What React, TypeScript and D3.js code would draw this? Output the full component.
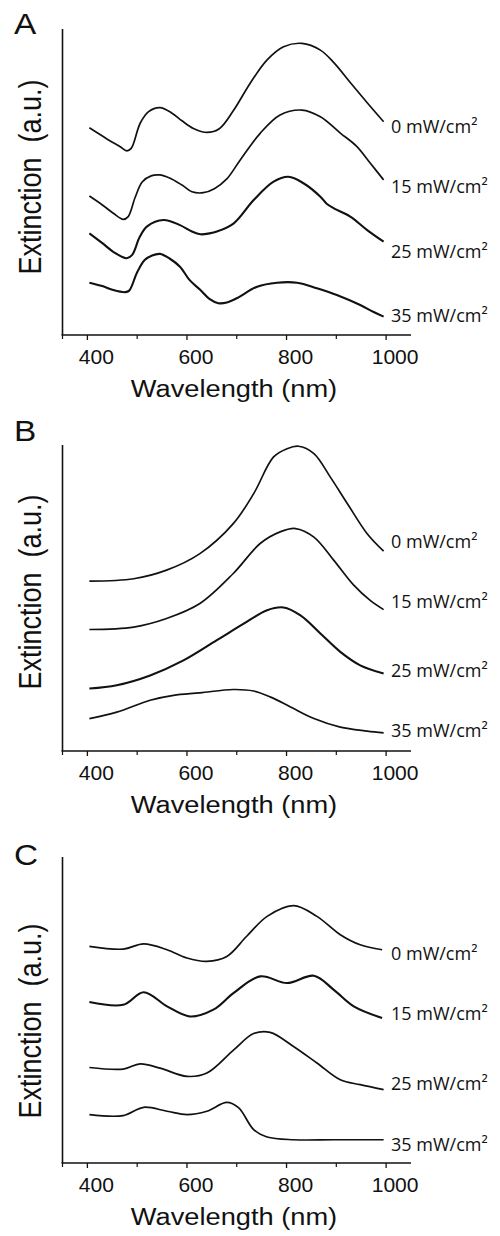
import React from "react";
import * as d3 from "d3";

type Pt = [number, number];

// ---- Data (wavelength nm, extinction a.u.) ----
const seriesNames = ["0 mW/cm²", "15 mW/cm²", "25 mW/cm²", "35 mW/cm²"];
const majorTicks = [400, 600, 800, 1000];
const minorTicks = [500, 700, 900];

const A_0: Pt[] = [[404,.677],[440,.640],[466,.615],[479,.602],[488,.610],[506,.692],[523,.730],[546,.743],[570,.725],[590,.700],[613,.675],[640,.662],[665,.674],[694,.735],[727,.823],[761,.899],[794,.942],[831,.953],[868,.931],[895,.890],[928,.825],[962,.759],[995,.697]];
const A_15: Pt[] = [[404,.454],[430,.425],[452,.398],[472,.378],[482,.387],[496,.450],[510,.500],[528,.520],[545,.523],[565,.513],[590,.490],[610,.468],[633,.465],[655,.478],[680,.510],[707,.572],[747,.659],[787,.719],[831,.735],[868,.713],[908,.660],[940,.618],[968,.562],[995,.507]];
const A_25: Pt[] = [[404,.332],[430,.300],[452,.272],[479,.251],[490,.262],[505,.320],[520,.355],[553,.376],[586,.359],[610,.338],[627,.329],[645,.332],[660,.338],[694,.365],[734,.441],[774,.501],[804,.517],[834,.496],[868,.452],[880,.430],[895,.414],[928,.387],[962,.343],[995,.305]];
const A_35: Pt[] = [[404,.171],[430,.160],[452,.147],[476,.140],[484,.145],[500,.205],[515,.245],[530,.260],[546,.265],[565,.250],[586,.223],[605,.180],[627,.147],[645,.118],[663,.104],[680,.106],[700,.120],[741,.158],[781,.171],[821,.171],[861,.153],[901,.131],[948,.098],[975,.075],[995,.060]];

const B_0: Pt[] = [[404,.555],[493,.563],[559,.591],[626,.645],[693,.743],[734,.841],[774,.961],[801,.988],[824,.996],[855,.972],[888,.895],[922,.809],[962,.710],[995,.653]];
const B_15: Pt[] = [[404,.397],[493,.405],[559,.433],[626,.482],[693,.580],[747,.678],[787,.716],[818,.727],[855,.699],[895,.623],[935,.542],[968,.492],[995,.462]];
const B_25: Pt[] = [[404,.204],[459,.215],[526,.247],[593,.296],[660,.362],[714,.416],[761,.460],[794,.469],[828,.443],[868,.384],[908,.324],[948,.280],[995,.253]];
const B_35: Pt[] = [[404,.106],[459,.127],[526,.166],[573,.182],[626,.190],[693,.201],[734,.196],[768,.176],[808,.144],[855,.106],[908,.078],[962,.065],[995,.059]];

const C_0: Pt[] = [[404,.708],[472,.699],[513,.716],[560,.697],[600,.670],[640,.659],[680,.675],[720,.741],[761,.806],[814,.841],[861,.806],[908,.746],[948,.713],[992,.697]];
const C_15: Pt[] = [[404,.526],[472,.517],[513,.558],[560,.512],[606,.479],[653,.501],[694,.556],[747,.610],[801,.588],[855,.612],[895,.566],[935,.512],[992,.474]];
const C_25: Pt[] = [[404,.312],[472,.307],[506,.324],[546,.310],[600,.283],[640,.294],[694,.370],[734,.423],[767,.427],[814,.381],[861,.327],[908,.272],[948,.256],[995,.240]];
const C_35: Pt[] = [[404,.158],[472,.155],[513,.182],[560,.169],[600,.158],[640,.169],[680,.198],[704,.180],[734,.109],[761,.085],[814,.076],[895,.076],[995,.076]];

const panels = [
  { letter: "A", top: 29, bottom: 335, letterY: 34, yLabelCy: 177, series: [A_0, A_15, A_25, A_35], noisy: [false, false, true, true], labelY: [132.5, 193, 257.5, 322] },
  { letter: "B", top: 445, bottom: 751, letterY: 441, yLabelCy: 592, series: [B_0, B_15, B_25, B_35], noisy: [false, false, true, false], labelY: [548, 608, 677, 737] },
  { letter: "C", top: 857, bottom: 1163, letterY: 865, yLabelCy: 1021, series: [C_0, C_15, C_25, C_35], noisy: [false, true, false, false], labelY: [960, 1020, 1090, 1151] },
];

const x = d3.scaleLinear().domain([350, 1050]).range([62.5, 411]);
const SX = 1.15;
const ARIAL = "'Liberation Sans', Arial, sans-serif";

function Panel({ p }: { p: (typeof panels)[number] }) {
  const y = d3.scaleLinear().domain([0, 1]).range([p.bottom, p.top]);
  const line = d3
    .line<Pt>()
    .x((d) => x(d[0]))
    .y((d) => y(d[1]))
    .curve(d3.curveCatmullRom.alpha(0.5));
  const [x0, x1] = x.range();
  return (
    <g>
      <text transform={`translate(14,${p.letterY}) scale(${SX},1)`} fontFamily={ARIAL} fontSize={29} fill="#111">
        {p.letter}
      </text>
      <text
        transform={`translate(41,${p.yLabelCy}) scale(${SX},1) rotate(-90)`}
        textAnchor="middle"
        fontFamily={ARIAL}
        fontSize={27}
        fill="#111"
        style={{ whiteSpace: "pre" }}
      >
        {"Extinction  (a.u.)"}
      </text>
      <line x1={x0} x2={x0} y1={p.top} y2={p.bottom} stroke="#111" strokeWidth={1.6} />
      <line x1={x0 - 1} x2={x1} y1={p.bottom} y2={p.bottom} stroke="#111" strokeWidth={1.6} />
      <line x1={x0} x2={x0} y1={p.bottom} y2={p.bottom + 4} stroke="#111" strokeWidth={1.2} />
      {majorTicks.map((t) => (
        <g key={t}>
          <line x1={x(t)} x2={x(t)} y1={p.bottom} y2={p.bottom + 5} stroke="#111" strokeWidth={1.3} />
          <text
            transform={`translate(${x(t) + 9},${p.bottom + 29}) scale(1.08,1)`}
            textAnchor="middle"
            fontFamily={ARIAL}
            fontSize={19.5}
            fill="#111"
          >
            {t}
          </text>
        </g>
      ))}
      {minorTicks.map((t) => (
        <line key={t} x1={x(t)} x2={x(t)} y1={p.bottom} y2={p.bottom + 4} stroke="#111" strokeWidth={1.2} />
      ))}
      <text
        transform={`translate(234,${p.bottom + 62}) scale(${SX},1)`}
        textAnchor="middle"
        fontFamily={ARIAL}
        fontSize={23.7}
        fill="#111"
      >
        Wavelength (nm)
      </text>
      {p.series.map((s, i) => (
        <path
          key={i}
          d={line(s) || ""}
          fill="none"
          stroke="#111"
          strokeWidth={p.noisy[i] ? 2.1 : 1.7}
          strokeLinejoin="round"
        />
      ))}
      {seriesNames.map((n, i) => (
        <text key={n} x={391} y={p.labelY[i]} fontFamily="'Open Sans', sans-serif" fontSize={18} fill="#111">
          {n}
        </text>
      ))}
    </g>
  );
}

export default function App() {
  return (
    <svg
      width={500}
      height={1236}
      viewBox="0 0 500 1236"
      style={{ position: "absolute", left: 0, top: 0, display: "block", background: "#fff" }}
    >
      <rect width={500} height={1236} fill="#fff" />
      {panels.map((p) => (
        <Panel key={p.letter} p={p} />
      ))}
    </svg>
  );
}
